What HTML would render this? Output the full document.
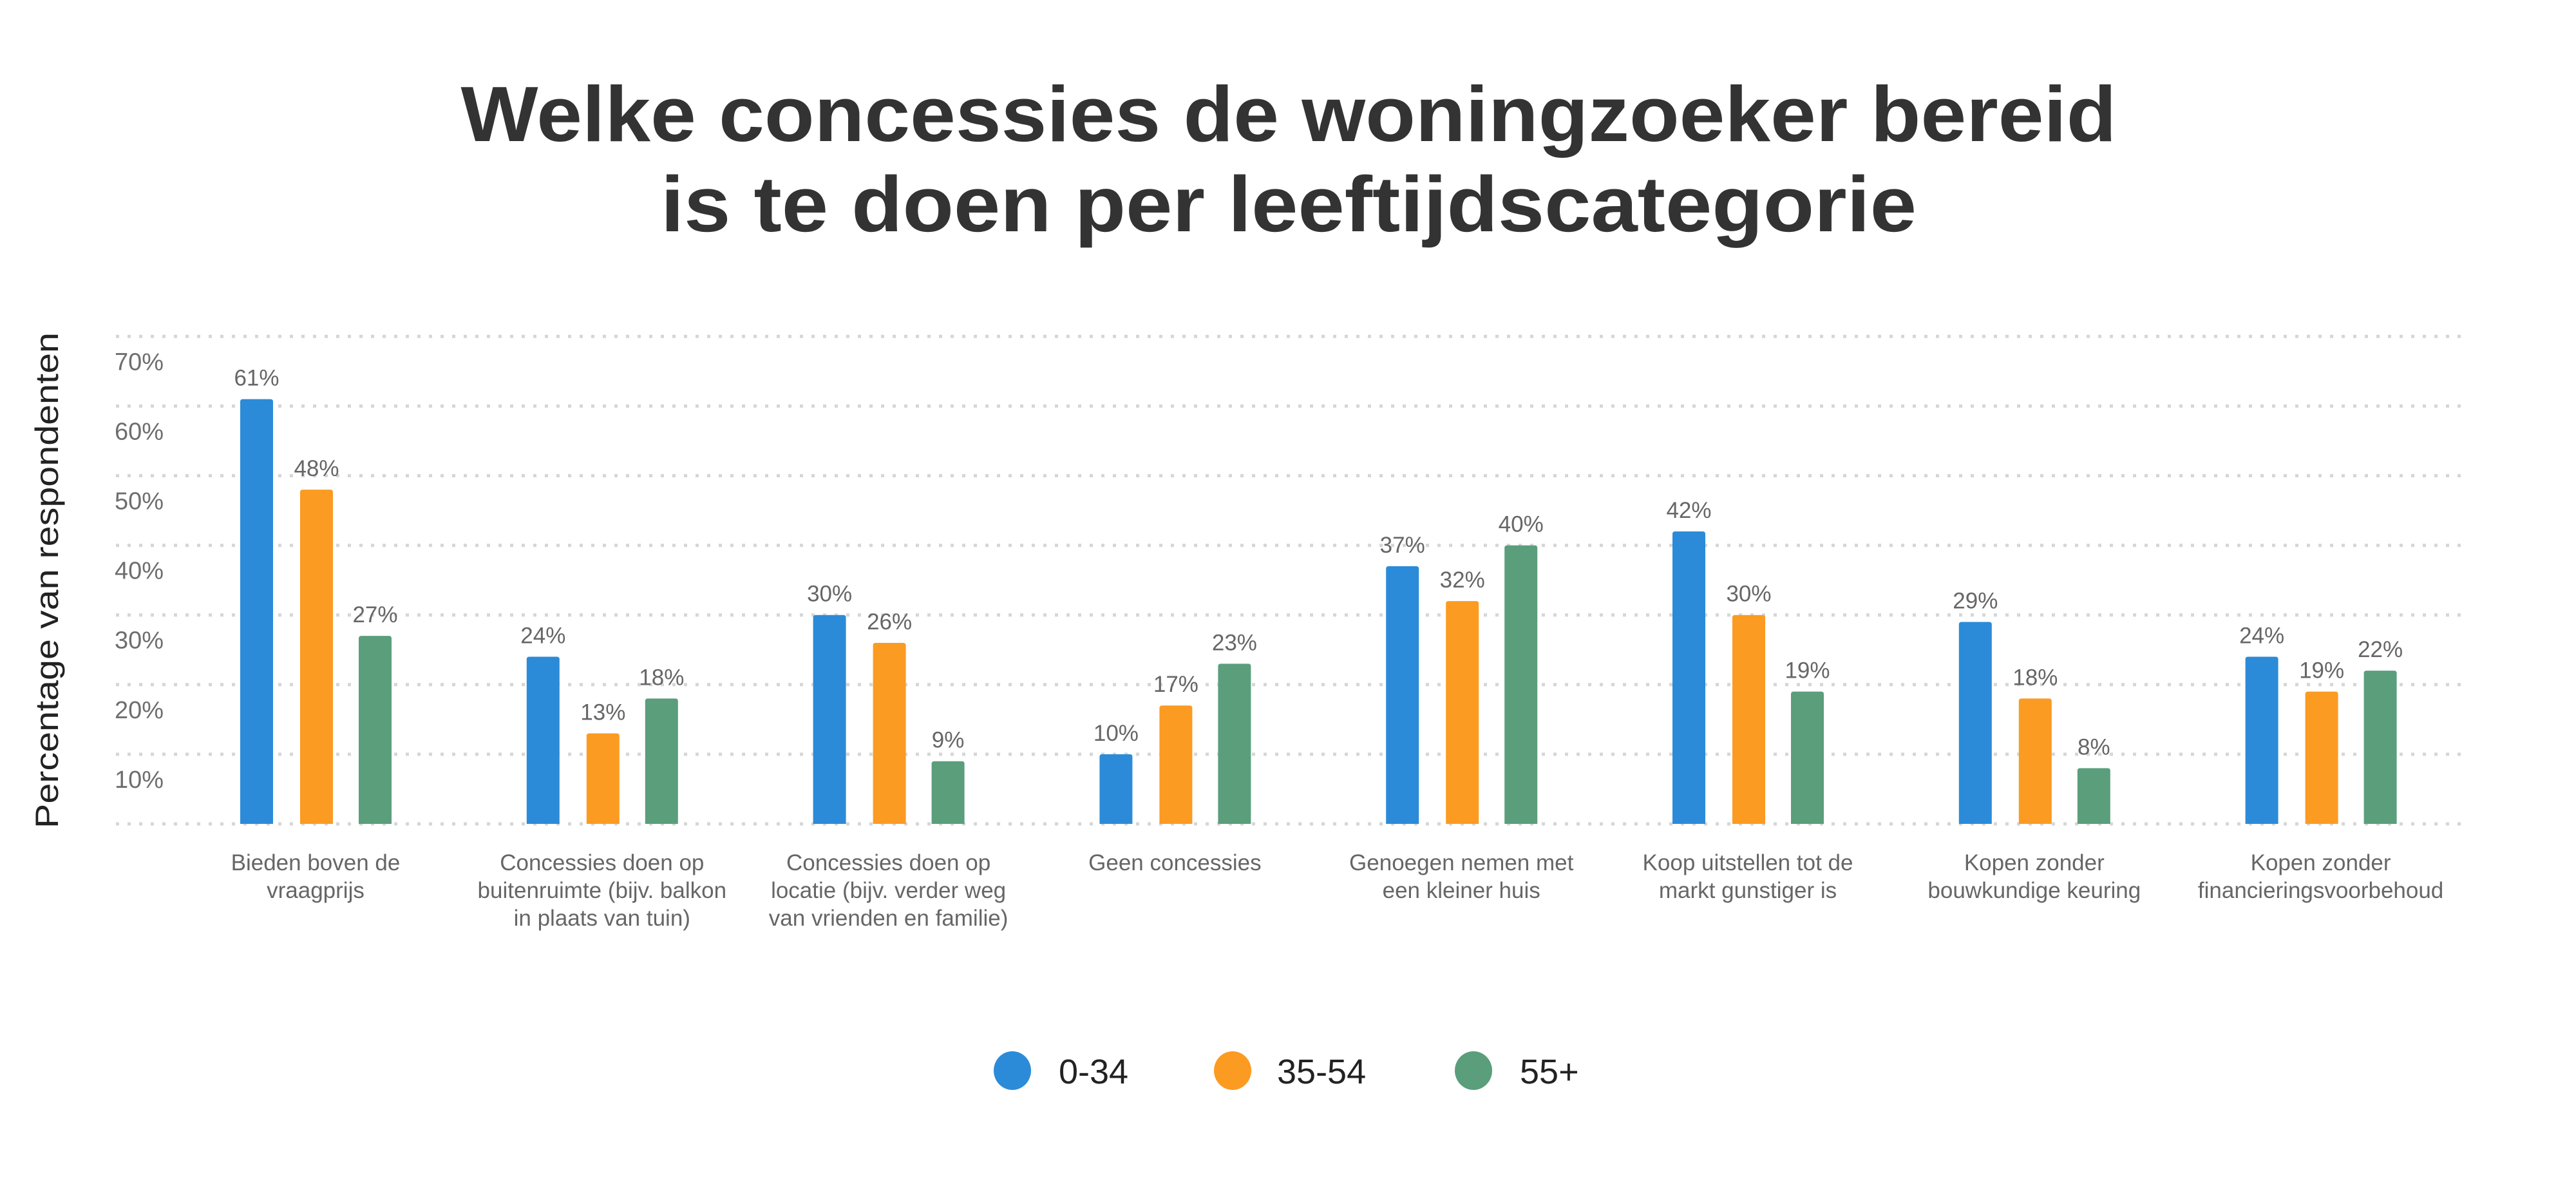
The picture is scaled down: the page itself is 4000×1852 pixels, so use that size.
<!DOCTYPE html>
<html><head><meta charset="utf-8"><style>
html,body{margin:0;padding:0;background:#fff;}
svg{display:block;}
</style></head><body>
<svg id="chart" width="4000" height="1852" viewBox="0 0 4000 1852" xmlns="http://www.w3.org/2000/svg" font-family="'Liberation Sans', sans-serif">
<rect width="4000" height="1852" fill="#fff"/>
<g fill="#333" font-weight="bold" font-size="122" text-anchor="middle">
<text x="2001" y="219" textLength="2571" lengthAdjust="spacingAndGlyphs">Welke concessies de woningzoeker bereid</text>
<text x="2001" y="359" textLength="1950" lengthAdjust="spacingAndGlyphs">is te doen per leeftijdscategorie</text>
</g>
<text transform="translate(90,901) rotate(-90)" text-anchor="middle" font-size="50" fill="#222" textLength="770" lengthAdjust="spacingAndGlyphs">Percentage van respondenten</text>
<g id="grid"></g><g id="yticks"></g><g id="bars"></g><g id="vlabels"></g><g id="xlabels"></g>
<g>
<g><ellipse cx="1572" cy="1662" rx="29" ry="30" fill="#2b8bd8"/><text x="1644" y="1682" font-size="54" fill="#222">0-34</text></g>
<g><ellipse cx="1914" cy="1662" rx="29" ry="30" fill="#fb9b22"/><text x="1983" y="1682" font-size="54" fill="#222">35-54</text></g>
<g><ellipse cx="2288" cy="1662" rx="29" ry="30" fill="#5a9e7c"/><text x="2360" y="1682" font-size="54" fill="#222">55+</text></g>
</g>
</svg>
<script>
const categories = [
  ["Bieden boven de","vraagprijs"],
  ["Concessies doen op","buitenruimte (bijv. balkon","in plaats van tuin)"],
  ["Concessies doen op","locatie (bijv. verder weg","van vrienden en familie)"],
  ["Geen concessies"],
  ["Genoegen nemen met","een kleiner huis"],
  ["Koop uitstellen tot de","markt gunstiger is"],
  ["Kopen zonder","bouwkundige keuring"],
  ["Kopen zonder","financieringsvoorbehoud"]
];
const seriesA = [61,24,30,10,37,42,29,24];
const seriesB = [48,13,26,17,32,30,18,19];
const seriesC = [27,18,9,23,40,19,8,22];
const yTicks = [0,10,20,30,40,50,60,70];
const seriesNames = ["0-34","35-54","55+"];
const colors = ["#2b8bd8","#fb9b22","#5a9e7c"];

const NS = "http://www.w3.org/2000/svg";
const y0 = 1279, pxPer = 10.81;
function yScale(v){ return y0 - v*pxPer; }
function xGroup(i){ return 373 + i*444.8; }
const offsets = [0,93,184], bw = 51;
function mk(tag, attrs, parent){ const e=document.createElementNS(NS,tag); for(const k in attrs) e.setAttribute(k,attrs[k]); parent.appendChild(e); return e; }

const grid = document.getElementById('grid');
const yt = document.getElementById('yticks');
yTicks.forEach(t=>{
  const l = mk('line',{x1:180,x2:3826,y1:yScale(t),y2:yScale(t),stroke:'#d6d6d6','stroke-width':5,'stroke-dasharray':'5 13'},grid);
  
  
  if(t>0){
    const tx = mk('text',{x:178,y:yScale(t)+52,'font-size':38,fill:'#6e6e6e'},yt);
    tx.textContent = t+'%';
    
    
  }
});
const bars = document.getElementById('bars');
const vl = document.getElementById('vlabels');
const xl = document.getElementById('xlabels');
const all = [seriesA, seriesB, seriesC];
categories.forEach((c,i)=>{
  all.forEach((s,j)=>{
    const x = xGroup(i)+offsets[j], v = s[i], top = yScale(v);
    const r = mk('path',{d:`M${x},${y0} L${x},${top+4} Q${x},${top} ${x+4},${top} L${x+bw-4},${top} Q${x+bw},${top} ${x+bw},${top+4} L${x+bw},${y0} Z`,fill:colors[j]},bars);
    
    
    const t = mk('text',{x:x+bw/2,y:top-21,'font-size':35,fill:'#666','text-anchor':'middle'},vl);
    t.textContent = v+'%';
    
    
  });
  const cx = xGroup(i)+117;
  c.forEach((line,k)=>{
    const t = mk('text',{x:cx,y:1351+k*43,'font-size':35,fill:'#666','text-anchor':'middle'},xl);
    t.textContent = line;
    
    
  });
});
</script>
</body></html>
